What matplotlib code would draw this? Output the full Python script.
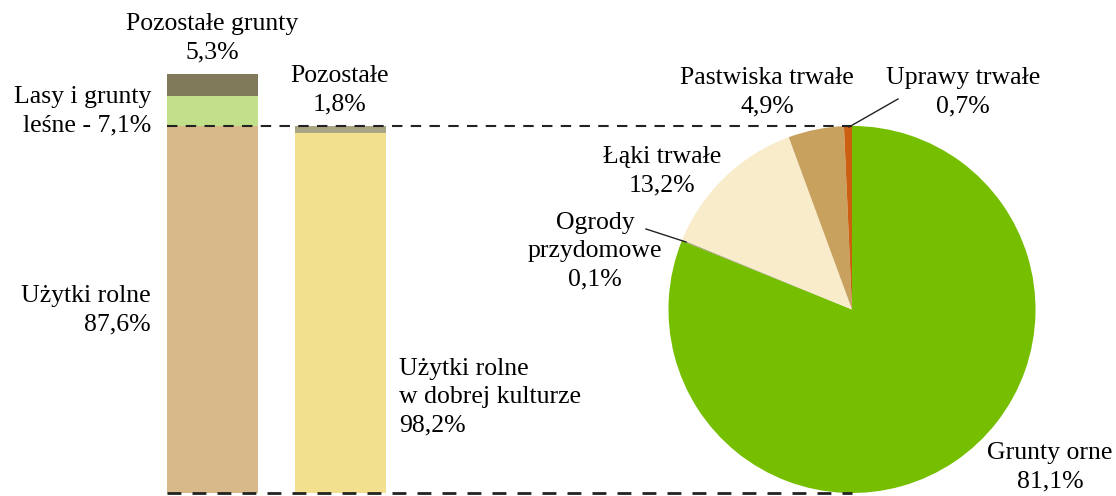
import matplotlib
matplotlib.use("Agg")
import matplotlib.pyplot as plt

plt.rcParams['font.family'] = ['Liberation Serif', 'DejaVu Serif']

# ---- data ----
bar1_labels = ["Użytki rolne", "Lasy i grunty leśne", "Pozostałe grunty"]
bar1_values = [87.6, 7.1, 5.3]
bar1_colors = ["#D8BA8A", "#C2E08A", "#807A5A"]

bar2_labels = ["Użytki rolne w dobrej kulturze", "Pozostałe"]
bar2_values = [98.2, 1.8]
bar2_colors = ["#F2E08E", "#A9A484"]

pie_labels = ["Grunty orne", "Ogrody przydomowe", "Łąki trwałe", "Pastwiska trwałe", "Uprawy trwałe"]
pie_values = [81.1, 0.1, 13.2, 4.9, 0.7]
pie_colors = ["#76BE00", "#9A9A6A", "#F8ECCB", "#C9A15F", "#CC6010"]

W, H = 1116, 496
fig = plt.figure(figsize=(W / 100, H / 100), dpi=100)
ax = fig.add_axes([0, 0, 1, 1])

base = 3.0
unit = 4.19  # px per percent
x1, x2, bw = 212.5, 340.0, 91

# bar 1
bottom = base
for v, c in zip(bar1_values, bar1_colors):
    ax.bar(x1, v * unit, width=bw, bottom=bottom, color=c, linewidth=0)
    bottom += v * unit
top_rolne = base + bar1_values[0] * unit

# bar 2 scaled to agricultural land height
scale = bar1_values[0] / 100.0
bottom = base
for v, c in zip(bar2_values, bar2_colors):
    ax.bar(x2, v * scale * unit, width=bw, bottom=bottom, color=c, linewidth=0)
    bottom += v * scale * unit

# pie
radius = (top_rolne - base) / 2
cx, cy = 852.0, base + radius
ax.pie(pie_values, colors=pie_colors, startangle=90, counterclock=False,
       center=(cx, cy), radius=radius, wedgeprops=dict(linewidth=0))

# dashed connectors
ax.plot([167, cx], [top_rolne, top_rolne], ls=(0, (5, 4)), color='#222222', lw=1.5)
ax.plot([167, cx], [base, base], ls=(0, (5, 4)), color='#222222', lw=2.0)

ax.set_xlim(0, W)
ax.set_ylim(0, H)
ax.set_aspect('equal')
ax.axis('off')

fs = 18.5
def T(x, y, s, ha='center'):
    ax.text(x, H - y, s, ha=ha, va='center', fontsize=fs, linespacing=1.38,
            multialignment=ha if ha != 'center' else 'center')

T(212, 38, "Pozostałe grunty\n5,3%")
T(151, 111, "Lasy i grunty\nleśne - 7,1%", ha='right')
T(151, 310, "Użytki rolne\n87,6%", ha='right')
T(340, 90, "Pozostałe\n1,8%")
T(399, 397, "Użytki rolne\nw dobrej kulturze\n98,2%", ha='left')
T(767, 92, "Pastwiska trwałe\n4,9%")
T(963, 92, "Uprawy trwałe\n0,7%")
T(662, 171, "Łąki trwałe\n13,2%")
T(595, 251, "Ogrody\nprzydomowe\n0,1%")
T(1050, 467, "Grunty orne\n81,1%")

# leader lines
ax.plot([646, 686], [H - 229, H - 242], color='#222222', lw=1.0)
ax.plot([898, 849], [H - 99, H - 127], color='#222222', lw=1.0)

fig.savefig("out.png", dpi=100)
